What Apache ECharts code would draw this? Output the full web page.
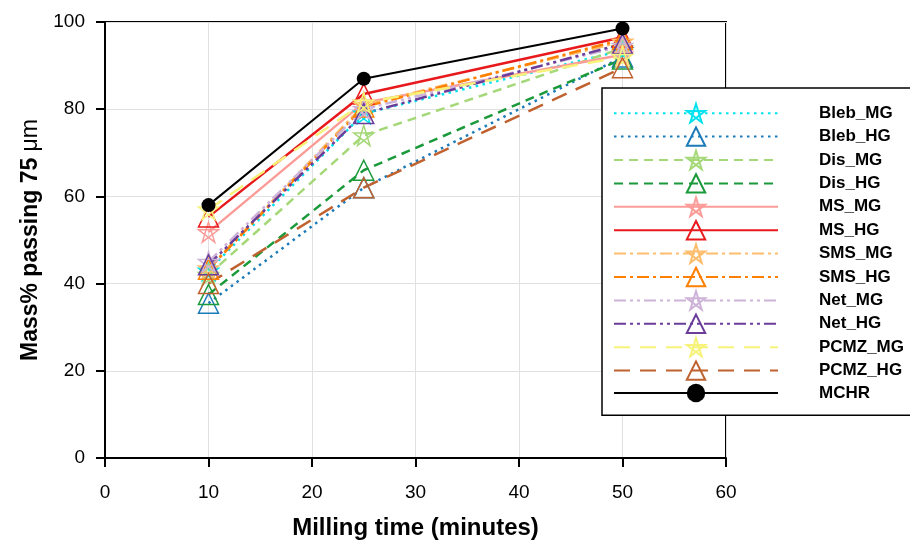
<!DOCTYPE html>
<html>
<head>
<meta charset="utf-8">
<script src="https://cdn.jsdelivr.net/npm/echarts@6/dist/echarts.min.js"></script>
<style>
html,body{margin:0;padding:0;background:#fff;}
#chart{width:910px;height:545px;}
</style>
</head>
<body>
<div id="chart"></div>
<script>
// ---- data ----
const millingTime = [10, 25, 50];
const seriesNames = ['Bleb_MG','Bleb_HG','Dis_MG','Dis_HG','MS_MG','MS_HG','SMS_MG','SMS_HG','Net_MG','Net_HG','PCMZ_MG','PCMZ_HG','MCHR'];
const Bleb_MG = [43, 79, 93.5];
const Bleb_HG = [35.5, 62, 92];
const Dis_MG  = [42, 74, 94];
const Dis_HG  = [37.5, 66, 91.5];
const MS_MG   = [51.8, 81.5, 92.5];
const MS_HG   = [55.3, 83.5, 96.5];
const SMS_MG  = [43.5, 81, 95.5];
const SMS_HG  = [43.3, 80.5, 96];
const Net_MG  = [45, 80, 94.5];
const Net_HG  = [44.3, 79, 95];
const PCMZ_MG = [57, 81.5, 92];
const PCMZ_HG = [40, 62, 89.5];
const MCHR    = [58, 87, 98.5];
const xTicks = [0, 10, 20, 30, 40, 50, 60];
const yTicks = [0, 20, 40, 60, 80, 100];

const values = {Bleb_MG, Bleb_HG, Dis_MG, Dis_HG, MS_MG, MS_HG, SMS_MG, SMS_HG, Net_MG, Net_HG, PCMZ_MG, PCMZ_HG, MCHR};

// ---- styles ----
const STAR = 'path://M50,0L79.39,90.45L2.45,34.55L97.55,34.55L20.61,90.45Z';
const styles = {
  Bleb_MG: {color:'#00e3ee', sym:STAR, dash:[2.5,4.5]},
  Bleb_HG: {color:'#1b7ab8', sym:'triangle', dash:[2.5,4.5]},
  Dis_MG:  {color:'#a5d878', sym:STAR, dash:[9,6]},
  Dis_HG:  {color:'#1a9a3a', sym:'triangle', dash:[9,6]},
  MS_MG:   {color:'#fb9c99', sym:STAR, dash:'solid'},
  MS_HG:   {color:'#e8191c', sym:'triangle', dash:'solid'},
  SMS_MG:  {color:'#fdbd6c', sym:STAR, dash:[12,4,3,4]},
  SMS_HG:  {color:'#ff7f00', sym:'triangle', dash:[12,4,3,4]},
  Net_MG:  {color:'#cdb3d8', sym:STAR, dash:[12,4,3,4,3,4]},
  Net_HG:  {color:'#6a3d9a', sym:'triangle', dash:[12,4,3,4,3,4]},
  PCMZ_MG: {color:'#f6f27a', sym:STAR, dash:[16,10]},
  PCMZ_HG: {color:'#c0622f', sym:'triangle', dash:[16,10]},
  MCHR:    {color:'#000000', sym:'circle', dash:'solid'}
};

const series = seriesNames.map(function(name){
  const s = styles[name];
  const isM = name === 'MCHR';
  return {
    name: name,
    type: 'line',
    data: millingTime.map(function(x, i){ return [x, values[name][i]]; }),
    symbol: s.sym,
    symbolSize: isM ? 14 : 20,
    showAllSymbol: true,
    lineStyle: {color: s.color, width: isM ? 2 : 2.5, type: s.dash},
    itemStyle: isM ? {color:'#000', borderColor:'#000', borderWidth:0}
                   : {color:'rgba(255,255,255,0)', borderColor: s.color, borderWidth: 1.5},
    emphasis: {disabled: true},
    z: isM ? 5 : 2
  };
});

const chart = echarts.init(document.getElementById('chart'), null, {renderer:'canvas'});
const FONT = 'Liberation Sans, Arial, sans-serif';
chart.setOption({
  animation: false,
  backgroundColor: '#fff',
  textStyle: {fontFamily: FONT},
  grid: {left:105, top:22, width:621, height:436, show:true, borderColor:'#000', borderWidth:2, backgroundColor:'transparent'},
  xAxis: {
    type:'value', min: xTicks[0], max: xTicks[xTicks.length-1], interval: 10,
    name: 'Milling time (minutes)', nameLocation:'middle', nameGap: 58,
    nameTextStyle: {fontFamily: FONT, fontSize: 24, fontWeight:'bold', color:'#000'},
    axisLine: {lineStyle:{color:'#000', width:2}},
    axisTick: {show:true, inside:false, length:9, lineStyle:{color:'#000', width:2}},
    axisLabel: {fontFamily: FONT, fontSize:19, color:'#000', margin:25},
    splitLine: {show:true, lineStyle:{color:'#e0e0e0', width:1}}
  },
  yAxis: {
    type:'value', min: yTicks[0], max: yTicks[yTicks.length-1], interval: 20,
    name: 'Mass% passing 75 {u|μm}', nameLocation:'middle', nameGap: 63,
    nameTextStyle: {fontFamily: FONT, fontSize: 23, fontWeight:'bold', color:'#000',
      rich: {u: {fontFamily: FONT, fontSize: 23, fontWeight:'normal', color:'#000'}}},
    axisLine: {lineStyle:{color:'#000', width:2}},
    axisTick: {show:true, inside:false, length:9, lineStyle:{color:'#000', width:2}},
    axisLabel: {fontFamily: FONT, fontSize:19, color:'#000', margin:20},
    splitLine: {show:true, lineStyle:{color:'#e0e0e0', width:1}}
  },
  legend: {
    data: seriesNames,
    orient:'vertical', left:602, top:88,
    padding:[15, 40, 13, 11],
    itemWidth:164, itemHeight:23, itemGap:3.0,
    backgroundColor:'#fff', borderColor:'#000', borderWidth:1.5,
    textStyle:{fontFamily: FONT, fontSize:17, fontWeight:'bold', color:'#000', padding:[0,0,0,36]},
    selectedMode:false
  },
  series: series
});
</script>
</body>
</html>
